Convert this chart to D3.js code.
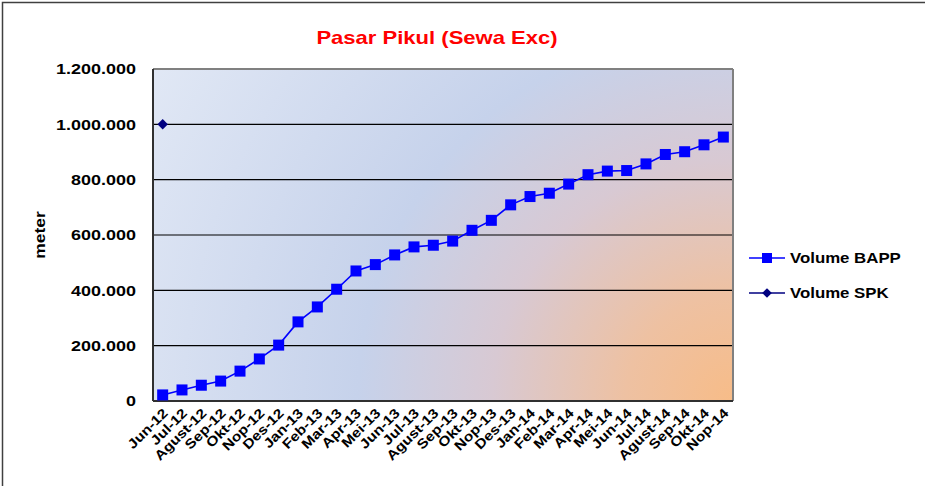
<!DOCTYPE html>
<html><head><meta charset="utf-8">
<script src="https://cdn.jsdelivr.net/npm/d3@7"></script>
<style>body{margin:0;background:#fff;}svg{display:block;font-family:"Liberation Sans",Arial,sans-serif;}</style>
</head><body>
<svg id="c" width="925" height="486"></svg>
<script>
const categories = ["Jun-12","Jul-12","Agust-12","Sep-12","Okt-12","Nop-12","Des-12","Jan-13","Feb-13","Mar-13","Apr-13","Mei-13","Jun-13","Jul-13","Agust-13","Sep-13","Okt-13","Nop-13","Des-13","Jan-14","Feb-14","Mar-14","Apr-14","Mei-14","Jun-14","Jul-14","Agust-14","Sep-14","Okt-14","Nop-14"];
const volumeBAPP = [22000,40000,57000,72000,108000,152000,202000,286000,340000,404000,470000,493000,528000,557000,563000,578000,617000,653000,709000,739000,751000,784000,818000,831000,833000,857000,891000,901000,926000,954000];
const volumeSPK = [1000000];
const yTicks = [0,200000,400000,600000,800000,1000000,1200000];

const svg = d3.select("#c");
const L=153, R=733, T=69, B=401;
const SX = 1.16; // horizontal stretch of the reference's text
const x = d3.scaleBand().domain(categories).range([L,R]);
const y = d3.scaleLinear().domain([0,1200000]).range([B,T]);
const fmt = v => d3.format(",")(v).replace(/,/g,".");

// outer frame
svg.append("rect").attr("x",2.5).attr("y",2.5).attr("width",940).attr("height",500)
  .attr("fill","#fff").attr("stroke","#404040").attr("stroke-width",1.5);

const defs = svg.append("defs");
const g1 = defs.append("radialGradient").attr("id","bg").attr("gradientUnits","userSpaceOnUse")
  .attr("cx",R).attr("cy",B).attr("r",670).attr("fx",R).attr("fy",B);
g1.append("stop").attr("offset","0").attr("stop-color","#f7bc88");
g1.append("stop").attr("offset","0.16").attr("stop-color","#eec1a2");
g1.append("stop").attr("offset","0.36").attr("stop-color","#d8c9d3");
g1.append("stop").attr("offset","0.56").attr("stop-color","#c6d2eb");
g1.append("stop").attr("offset","1").attr("stop-color","#e1e8f5");

svg.append("rect").attr("x",L).attr("y",T).attr("width",R-L).attr("height",B-T).attr("fill","url(#bg)");

// gridlines
svg.append("g").selectAll("line").data(yTicks.filter(d=>d>0&&d<1200000)).join("line")
  .attr("x1",L).attr("x2",R).attr("y1",d=>y(d)).attr("y2",d=>y(d))
  .attr("stroke","#000").attr("stroke-width",1.2);

// plot border
svg.append("line").attr("x1",L).attr("x2",R).attr("y1",T).attr("y2",T).attr("stroke","#808080").attr("stroke-width",2);
svg.append("line").attr("x1",R).attr("x2",R).attr("y1",T).attr("y2",B).attr("stroke","#808080").attr("stroke-width",2);
svg.append("line").attr("x1",L).attr("x2",L).attr("y1",T).attr("y2",B).attr("stroke","#303030").attr("stroke-width",2);
svg.append("line").attr("x1",L).attr("x2",R).attr("y1",B).attr("y2",B).attr("stroke","#303030").attr("stroke-width",2);

// y axis
const ya = svg.append("g").attr("transform",`translate(${L},0)`)
  .call(d3.axisLeft(y).tickValues(yTicks).tickFormat(fmt).tickSize(0).tickPadding(0));
ya.select(".domain").remove();
ya.selectAll("text").attr("font-size",15.5).attr("font-weight","bold").attr("fill","#000")
  .attr("font-family","Liberation Sans, Arial, sans-serif")
  .attr("x",0).attr("transform",`translate(-17,0) scale(${SX},1)`);

// x axis
const xa = svg.append("g").attr("transform",`translate(0,${B})`)
  .call(d3.axisBottom(x).tickSize(0).tickPadding(0));
xa.select(".domain").remove();
xa.selectAll("text").attr("font-size",13.5).attr("font-weight","bold").attr("fill","#000")
  .attr("font-family","Liberation Sans, Arial, sans-serif")
  .attr("text-anchor","end").attr("dy",null).attr("y",0)
  .attr("transform",`translate(6,13) rotate(-45) scale(${SX},1)`);

// y label
svg.append("text").attr("transform",`translate(45,235) rotate(-90) scale(${SX},1)`).attr("text-anchor","middle")
  .attr("font-size",15).attr("font-weight","bold").text("meter");

// title
svg.append("text").attr("transform",`translate(437,44) scale(${SX},1)`).attr("text-anchor","middle").attr("fill","#ff0000")
  .attr("font-size",19).attr("font-weight","bold").text("Pasar Pikul (Sewa Exc)");

// BAPP line
const cx = d => x(d) + x.bandwidth()/2;
svg.append("path").datum(volumeBAPP)
  .attr("d", d3.line().x((d,i)=>cx(categories[i])).y(d=>y(d)))
  .attr("fill","none").attr("stroke","#0000ff").attr("stroke-width",1.6);
svg.append("g").selectAll("rect").data(volumeBAPP).join("rect")
  .attr("x",(d,i)=>cx(categories[i])-5.5).attr("y",d=>y(d)-5.5)
  .attr("width",11).attr("height",11).attr("fill","#0000ff");

// SPK
svg.append("g").selectAll("path").data(volumeSPK).join("path")
  .attr("d",d3.symbol(d3.symbolDiamond2, 70))
  .attr("transform",(d,i)=>`translate(${cx(categories[i])},${y(d)})`).attr("fill","#000080");

// legend
const lg = svg.append("g");
lg.append("line").attr("x1",749).attr("x2",785).attr("y1",258).attr("y2",258).attr("stroke","#0000ff").attr("stroke-width",1.6);
lg.append("rect").attr("x",762).attr("y",253).attr("width",10).attr("height",10).attr("fill","#0000ff");
lg.append("text").attr("transform",`translate(790,263) scale(${SX},1)`).attr("font-size",14.5).attr("font-weight","bold").text("Volume BAPP");
lg.append("line").attr("x1",749).attr("x2",785).attr("y1",293).attr("y2",293).attr("stroke","#000080").attr("stroke-width",1.6);
lg.append("path").attr("d",d3.symbol(d3.symbolDiamond2,60)).attr("transform","translate(767,293)").attr("fill","#000080");
lg.append("text").attr("transform",`translate(790,298) scale(${SX},1)`).attr("font-size",14.5).attr("font-weight","bold").text("Volume SPK");
</script>
</body></html>
